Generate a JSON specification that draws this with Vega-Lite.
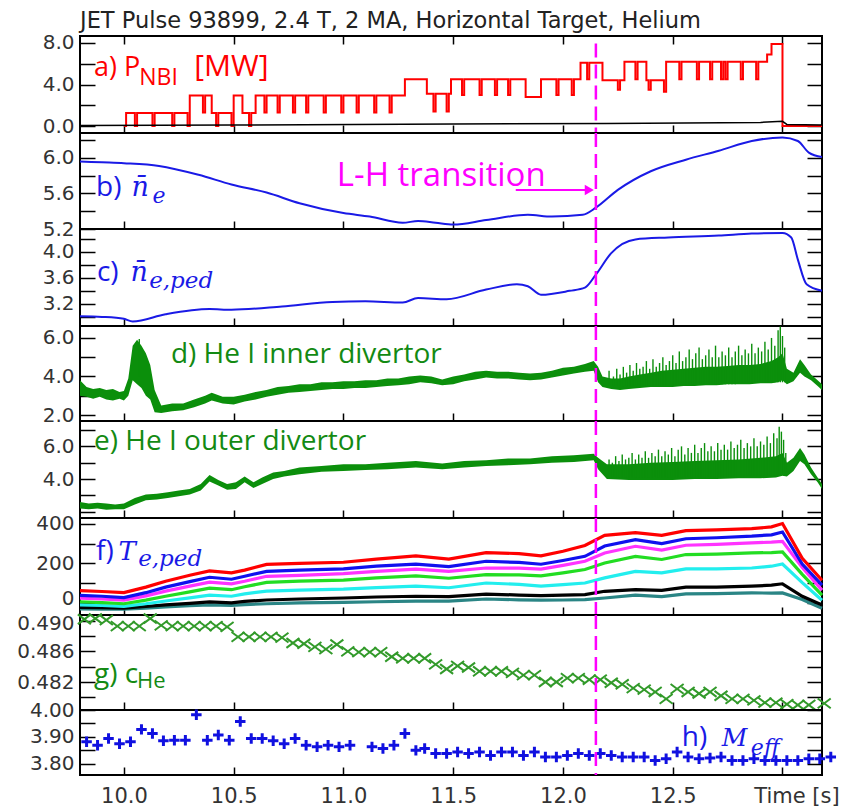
{
"$schema": "https://vega.github.io/schema/vega-lite/v6.json",
"background": "white",
"padding": {"left": 15, "top": 9, "right": 5, "bottom": 5},
"spacing": 0,
"bounds": "flush",
"config": {
  "view": {"stroke": "#000", "strokeWidth": 2},
  "axis": {"domain": false, "grid": false, "title": null, "tickColor": "#000", "tickWidth": 1.5, "labelFont": "DejaVu Sans", "labelFontSize": 21, "labelColor": "#333"},
  "axisX": {"tickSize": -8, "labelPadding": 18},
  "axisY": {"tickSize": -15, "labelPadding": 21, "labelFontSize": 20}
},
"datasets": {
  "pnbi": [{"t":10.00,"p":0},{"t":10.01,"p":1.25},{"t":10.05,"p":0},{"t":10.06,"p":1.25},{"t":10.13,"p":0},{"t":10.14,"p":1.25},{"t":10.22,"p":0},{"t":10.23,"p":1.25},{"t":10.29,"p":0},{"t":10.30,"p":2.95},{"t":10.36,"p":1.3},{"t":10.37,"p":2.95},{"t":10.40,"p":1.25},{"t":10.42,"p":0},{"t":10.43,"p":1.25},{"t":10.49,"p":0},{"t":10.50,"p":2.95},{"t":10.54,"p":1.25},{"t":10.57,"p":0},{"t":10.58,"p":1.25},{"t":10.60,"p":2.95},{"t":10.64,"p":1.3},{"t":10.65,"p":2.95},{"t":10.70,"p":1.3},{"t":10.71,"p":2.95},{"t":10.77,"p":1.3},{"t":10.78,"p":2.95},{"t":10.83,"p":1.3},{"t":10.84,"p":2.95},{"t":10.91,"p":1.3},{"t":10.92,"p":2.95},{"t":10.99,"p":1.3},{"t":11.00,"p":2.95},{"t":11.06,"p":1.3},{"t":11.07,"p":2.95},{"t":11.14,"p":1.3},{"t":11.15,"p":2.95},{"t":11.21,"p":1.3},{"t":11.22,"p":2.95},{"t":11.28,"p":4.5},{"t":11.38,"p":3.1},{"t":11.41,"p":1.4},{"t":11.42,"p":3.1},{"t":11.47,"p":1.4},{"t":11.48,"p":3.1},{"t":11.49,"p":4.5},{"t":11.54,"p":3.0},{"t":11.55,"p":4.5},{"t":11.62,"p":3.0},{"t":11.63,"p":4.5},{"t":11.69,"p":3.0},{"t":11.70,"p":4.5},{"t":11.75,"p":3.0},{"t":11.76,"p":4.5},{"t":11.83,"p":2.8},{"t":11.90,"p":4.5},{"t":11.97,"p":3.0},{"t":11.98,"p":4.5},{"t":12.04,"p":3.0},{"t":12.05,"p":4.5},{"t":12.08,"p":6.1},{"t":12.11,"p":4.5},{"t":12.12,"p":6.1},{"t":12.18,"p":4.4},{"t":12.25,"p":3.5},{"t":12.26,"p":4.4},{"t":12.28,"p":6.2},{"t":12.33,"p":4.5},{"t":12.34,"p":6.2},{"t":12.38,"p":4.4},{"t":12.39,"p":3.5},{"t":12.40,"p":4.4},{"t":12.46,"p":3.3},{"t":12.47,"p":6.2},{"t":12.53,"p":4.5},{"t":12.54,"p":6.2},{"t":12.61,"p":4.5},{"t":12.62,"p":6.2},{"t":12.67,"p":4.5},{"t":12.68,"p":6.2},{"t":12.72,"p":4.5},{"t":12.73,"p":6.2},{"t":12.74,"p":4.5},{"t":12.75,"p":6.2},{"t":12.81,"p":4.5},{"t":12.82,"p":6.2},{"t":12.88,"p":4.5},{"t":12.89,"p":6.2},{"t":12.93,"p":6.9},{"t":12.95,"p":7.9},{"t":13.00,"p":0},{"t":13.18,"p":0}],
  "ohm": [{"t":9.8,"p":0.05},{"t":10.5,"p":0.1},{"t":11.5,"p":0.2},{"t":12.2,"p":0.25},{"t":12.9,"p":0.35},{"t":13.0,"p":0.45},{"t":13.02,"p":0.15},{"t":13.18,"p":0.1}],
  "ne": [{"t":9.80,"v":5.96},{"t":9.90,"v":5.95},{"t":10.00,"v":5.94},{"t":10.16,"v":5.91},{"t":10.34,"v":5.81},{"t":10.49,"v":5.70},{"t":10.65,"v":5.61},{"t":10.80,"v":5.49},{"t":11.00,"v":5.38},{"t":11.12,"v":5.34},{"t":11.27,"v":5.27},{"t":11.34,"v":5.29},{"t":11.42,"v":5.27},{"t":11.50,"v":5.25},{"t":11.65,"v":5.30},{"t":11.84,"v":5.36},{"t":11.95,"v":5.34},{"t":12.09,"v":5.36},{"t":12.15,"v":5.44},{"t":12.25,"v":5.64},{"t":12.40,"v":5.85},{"t":12.56,"v":5.98},{"t":12.71,"v":6.08},{"t":12.86,"v":6.19},{"t":13.00,"v":6.23},{"t":13.07,"v":6.19},{"t":13.12,"v":6.06},{"t":13.18,"v":6.01}],
  "neped": [{"t":9.80,"v":3.01},{"t":9.90,"v":3.00},{"t":10.00,"v":2.97},{"t":10.04,"v":2.93},{"t":10.19,"v":3.04},{"t":10.39,"v":3.12},{"t":10.49,"v":3.11},{"t":10.72,"v":3.16},{"t":10.95,"v":3.23},{"t":11.10,"v":3.24},{"t":11.27,"v":3.22},{"t":11.34,"v":3.29},{"t":11.47,"v":3.27},{"t":11.65,"v":3.42},{"t":11.79,"v":3.50},{"t":11.84,"v":3.47},{"t":11.90,"v":3.34},{"t":12.03,"v":3.40},{"t":12.10,"v":3.45},{"t":12.15,"v":3.65},{"t":12.22,"v":3.98},{"t":12.33,"v":4.19},{"t":12.48,"v":4.22},{"t":12.71,"v":4.25},{"t":12.86,"v":4.28},{"t":13.00,"v":4.29},{"t":13.04,"v":4.22},{"t":13.07,"v":3.88},{"t":13.11,"v":3.50},{"t":13.18,"v":3.40}],
  "hin": [{"t":9.80,"lo":3.0,"hi":3.8},{"t":9.83,"lo":2.95,"hi":3.45},{"t":9.86,"lo":2.85,"hi":3.35},{"t":9.89,"lo":2.95,"hi":3.4},{"t":9.92,"lo":2.8,"hi":3.3},{"t":9.95,"lo":2.75,"hi":3.35},{"t":9.98,"lo":2.85,"hi":3.2},{"t":10.00,"lo":2.75,"hi":3.25},{"t":10.02,"lo":3.0,"hi":3.9},{"t":10.04,"lo":3.8,"hi":5.6},{"t":10.06,"lo":3.6,"hi":5.9},{"t":10.08,"lo":3.4,"hi":5.6},{"t":10.10,"lo":3.0,"hi":5.2},{"t":10.12,"lo":2.8,"hi":4.6},{"t":10.14,"lo":2.15,"hi":3.3},{"t":10.17,"lo":2.1,"hi":2.5},{"t":10.22,"lo":2.2,"hi":2.6},{"t":10.27,"lo":2.25,"hi":2.6},{"t":10.32,"lo":2.4,"hi":2.8},{"t":10.37,"lo":2.6,"hi":3.0},{"t":10.40,"lo":2.75,"hi":3.15},{"t":10.45,"lo":2.6,"hi":2.95},{"t":10.50,"lo":2.55,"hi":2.95},{"t":10.55,"lo":2.7,"hi":3.05},{"t":10.60,"lo":2.8,"hi":3.2},{"t":10.65,"lo":2.95,"hi":3.3},{"t":10.70,"lo":3.05,"hi":3.45},{"t":10.75,"lo":3.15,"hi":3.5},{"t":10.80,"lo":3.2,"hi":3.6},{"t":10.85,"lo":3.25,"hi":3.6},{"t":10.90,"lo":3.3,"hi":3.7},{"t":10.95,"lo":3.35,"hi":3.7},{"t":11.00,"lo":3.35,"hi":3.75},{"t":11.05,"lo":3.4,"hi":3.75},{"t":11.10,"lo":3.4,"hi":3.8},{"t":11.15,"lo":3.45,"hi":3.8},{"t":11.20,"lo":3.5,"hi":3.9},{"t":11.25,"lo":3.55,"hi":3.9},{"t":11.30,"lo":3.6,"hi":4.0},{"t":11.35,"lo":3.7,"hi":4.05},{"t":11.40,"lo":3.65,"hi":4.0},{"t":11.45,"lo":3.55,"hi":3.85},{"t":11.50,"lo":3.6,"hi":4.0},{"t":11.55,"lo":3.75,"hi":4.1},{"t":11.60,"lo":3.85,"hi":4.25},{"t":11.65,"lo":3.95,"hi":4.3},{"t":11.70,"lo":3.9,"hi":4.25},{"t":11.75,"lo":3.9,"hi":4.25},{"t":11.80,"lo":3.85,"hi":4.2},{"t":11.85,"lo":3.8,"hi":4.15},{"t":11.90,"lo":3.85,"hi":4.2},{"t":11.95,"lo":3.95,"hi":4.3},{"t":12.00,"lo":4.05,"hi":4.45},{"t":12.05,"lo":4.15,"hi":4.5},{"t":12.10,"lo":4.25,"hi":4.65},{"t":12.14,"lo":4.3,"hi":4.8},{"t":12.16,"lo":3.7,"hi":4.5},{"t":12.18,"lo":3.45,"hi":4.0},{"t":12.22,"lo":3.35,"hi":3.9},{"t":12.26,"lo":3.3,"hi":3.9},{"t":12.30,"lo":3.35,"hi":4.0},{"t":12.35,"lo":3.4,"hi":4.1},{"t":12.40,"lo":3.45,"hi":4.2},{"t":12.45,"lo":3.45,"hi":4.3},{"t":12.50,"lo":3.45,"hi":4.35},{"t":12.55,"lo":3.5,"hi":4.4},{"t":12.60,"lo":3.5,"hi":4.45},{"t":12.65,"lo":3.55,"hi":4.5},{"t":12.70,"lo":3.55,"hi":4.5},{"t":12.75,"lo":3.6,"hi":4.55},{"t":12.80,"lo":3.6,"hi":4.6},{"t":12.85,"lo":3.6,"hi":4.6},{"t":12.90,"lo":3.65,"hi":4.65},{"t":12.95,"lo":3.65,"hi":4.8},{"t":12.98,"lo":3.7,"hi":5.0},{"t":13.00,"lo":3.8,"hi":5.2},{"t":13.02,"lo":3.6,"hi":4.4},{"t":13.05,"lo":3.75,"hi":4.2},{"t":13.08,"lo":4.2,"hi":4.9},{"t":13.10,"lo":4.0,"hi":4.6},{"t":13.13,"lo":3.8,"hi":4.1},{"t":13.16,"lo":3.5,"hi":3.8},{"t":13.18,"lo":3.3,"hi":3.6}],
  "hinsp": [{"t":10.07,"lo":4.0,"hi":5.95},{"t":12.21,"lo":3.5,"hi":4.3},{"t":12.23,"lo":3.5,"hi":4.0},{"t":12.245,"lo":3.5,"hi":4.4},{"t":12.26,"lo":3.5,"hi":4.1},{"t":12.275,"lo":3.5,"hi":4.5},{"t":12.29,"lo":3.5,"hi":4.2},{"t":12.305,"lo":3.5,"hi":4.6},{"t":12.32,"lo":3.5,"hi":4.3},{"t":12.335,"lo":3.5,"hi":4.7},{"t":12.35,"lo":3.5,"hi":4.4},{"t":12.365,"lo":3.5,"hi":4.5},{"t":12.38,"lo":3.5,"hi":4.8},{"t":12.395,"lo":3.5,"hi":4.4},{"t":12.41,"lo":3.5,"hi":4.9},{"t":12.425,"lo":3.5,"hi":4.5},{"t":12.44,"lo":3.5,"hi":4.7},{"t":12.455,"lo":3.5,"hi":5.0},{"t":12.47,"lo":3.5,"hi":4.6},{"t":12.485,"lo":3.5,"hi":4.8},{"t":12.50,"lo":3.5,"hi":5.1},{"t":12.515,"lo":3.5,"hi":4.7},{"t":12.53,"lo":3.6,"hi":5.3},{"t":12.545,"lo":3.6,"hi":4.8},{"t":12.56,"lo":3.6,"hi":5.0},{"t":12.575,"lo":3.6,"hi":5.4},{"t":12.59,"lo":3.6,"hi":4.9},{"t":12.605,"lo":3.6,"hi":5.2},{"t":12.62,"lo":3.6,"hi":5.5},{"t":12.635,"lo":3.6,"hi":4.9},{"t":12.65,"lo":3.6,"hi":5.1},{"t":12.665,"lo":3.6,"hi":5.4},{"t":12.68,"lo":3.6,"hi":5.0},{"t":12.695,"lo":3.6,"hi":5.6},{"t":12.71,"lo":3.6,"hi":5.0},{"t":12.725,"lo":3.6,"hi":5.3},{"t":12.74,"lo":3.6,"hi":5.1},{"t":12.755,"lo":3.6,"hi":5.5},{"t":12.77,"lo":3.6,"hi":5.0},{"t":12.785,"lo":3.6,"hi":5.3},{"t":12.80,"lo":3.7,"hi":5.6},{"t":12.815,"lo":3.7,"hi":5.1},{"t":12.83,"lo":3.7,"hi":5.4},{"t":12.845,"lo":3.7,"hi":5.2},{"t":12.86,"lo":3.7,"hi":5.7},{"t":12.875,"lo":3.7,"hi":5.2},{"t":12.89,"lo":3.7,"hi":5.5},{"t":12.905,"lo":3.7,"hi":5.3},{"t":12.92,"lo":3.7,"hi":5.8},{"t":12.935,"lo":3.7,"hi":5.4},{"t":12.95,"lo":3.7,"hi":6.0},{"t":12.965,"lo":3.7,"hi":5.6},{"t":12.98,"lo":3.7,"hi":6.4},{"t":12.99,"lo":3.7,"hi":6.6},{"t":13.00,"lo":3.7,"hi":6.1},{"t":13.01,"lo":3.7,"hi":5.5}],
  "hout": [{"t":9.80,"lo":2.2,"hi":2.6},{"t":9.84,"lo":2.15,"hi":2.5},{"t":9.88,"lo":2.2,"hi":2.55},{"t":9.92,"lo":2.12,"hi":2.5},{"t":9.96,"lo":2.15,"hi":2.45},{"t":10.00,"lo":2.15,"hi":2.5},{"t":10.05,"lo":2.45,"hi":2.85},{"t":10.10,"lo":2.7,"hi":3.05},{"t":10.15,"lo":2.75,"hi":3.1},{"t":10.20,"lo":2.85,"hi":3.2},{"t":10.25,"lo":2.95,"hi":3.3},{"t":10.30,"lo":3.05,"hi":3.4},{"t":10.35,"lo":3.3,"hi":3.7},{"t":10.39,"lo":3.85,"hi":4.25},{"t":10.43,"lo":3.6,"hi":3.95},{"t":10.47,"lo":3.35,"hi":3.7},{"t":10.51,"lo":3.4,"hi":3.8},{"t":10.55,"lo":3.8,"hi":4.15},{"t":10.59,"lo":3.45,"hi":3.8},{"t":10.63,"lo":3.7,"hi":4.1},{"t":10.68,"lo":4.0,"hi":4.4},{"t":10.73,"lo":4.15,"hi":4.5},{"t":10.80,"lo":4.3,"hi":4.7},{"t":10.90,"lo":4.45,"hi":4.8},{"t":11.00,"lo":4.5,"hi":4.9},{"t":11.10,"lo":4.55,"hi":4.9},{"t":11.20,"lo":4.6,"hi":5.0},{"t":11.33,"lo":4.7,"hi":5.1},{"t":11.45,"lo":4.6,"hi":4.95},{"t":11.55,"lo":4.7,"hi":5.1},{"t":11.65,"lo":4.8,"hi":5.15},{"t":11.75,"lo":4.85,"hi":5.25},{"t":11.85,"lo":4.9,"hi":5.25},{"t":11.95,"lo":5.0,"hi":5.4},{"t":12.05,"lo":5.05,"hi":5.45},{"t":12.14,"lo":5.15,"hi":5.55},{"t":12.16,"lo":4.6,"hi":5.3},{"t":12.20,"lo":4.0,"hi":4.9},{"t":12.30,"lo":3.95,"hi":4.9},{"t":12.40,"lo":3.95,"hi":5.0},{"t":12.50,"lo":3.95,"hi":5.05},{"t":12.60,"lo":4.0,"hi":5.1},{"t":12.70,"lo":4.0,"hi":5.15},{"t":12.80,"lo":4.05,"hi":5.2},{"t":12.90,"lo":4.05,"hi":5.3},{"t":12.97,"lo":4.1,"hi":5.4},{"t":13.00,"lo":4.2,"hi":5.6},{"t":13.02,"lo":4.15,"hi":5.0},{"t":13.05,"lo":4.5,"hi":5.3},{"t":13.08,"lo":5.1,"hi":5.9},{"t":13.10,"lo":4.9,"hi":5.5},{"t":13.13,"lo":4.3,"hi":4.7},{"t":13.16,"lo":3.8,"hi":4.1},{"t":13.18,"lo":3.4,"hi":3.7}],
  "houtsp": [{"t":12.21,"lo":4.1,"hi":5.2},{"t":12.225,"lo":4.1,"hi":5.0},{"t":12.24,"lo":4.1,"hi":5.4},{"t":12.255,"lo":4.1,"hi":5.1},{"t":12.27,"lo":4.1,"hi":5.5},{"t":12.285,"lo":4.1,"hi":5.2},{"t":12.30,"lo":4.1,"hi":5.3},{"t":12.315,"lo":4.1,"hi":5.6},{"t":12.33,"lo":4.1,"hi":5.2},{"t":12.345,"lo":4.1,"hi":5.5},{"t":12.36,"lo":4.1,"hi":5.3},{"t":12.375,"lo":4.1,"hi":5.7},{"t":12.39,"lo":4.1,"hi":5.3},{"t":12.405,"lo":4.1,"hi":5.6},{"t":12.42,"lo":4.1,"hi":5.4},{"t":12.435,"lo":4.1,"hi":5.8},{"t":12.45,"lo":4.1,"hi":5.4},{"t":12.465,"lo":4.1,"hi":5.7},{"t":12.48,"lo":4.1,"hi":5.5},{"t":12.495,"lo":4.1,"hi":5.9},{"t":12.51,"lo":4.1,"hi":5.4},{"t":12.525,"lo":4.1,"hi":5.8},{"t":12.54,"lo":4.1,"hi":6.0},{"t":12.555,"lo":4.1,"hi":5.5},{"t":12.57,"lo":4.1,"hi":5.9},{"t":12.585,"lo":4.1,"hi":5.6},{"t":12.60,"lo":4.1,"hi":6.1},{"t":12.615,"lo":4.1,"hi":5.6},{"t":12.63,"lo":4.1,"hi":5.9},{"t":12.645,"lo":4.1,"hi":6.2},{"t":12.66,"lo":4.1,"hi":5.7},{"t":12.675,"lo":4.1,"hi":6.0},{"t":12.69,"lo":4.1,"hi":5.7},{"t":12.705,"lo":4.1,"hi":6.2},{"t":12.72,"lo":4.1,"hi":5.8},{"t":12.735,"lo":4.1,"hi":6.1},{"t":12.75,"lo":4.1,"hi":5.8},{"t":12.765,"lo":4.1,"hi":6.3},{"t":12.78,"lo":4.1,"hi":5.9},{"t":12.795,"lo":4.1,"hi":6.1},{"t":12.81,"lo":4.1,"hi":6.4},{"t":12.825,"lo":4.1,"hi":5.9},{"t":12.84,"lo":4.2,"hi":6.2},{"t":12.855,"lo":4.2,"hi":6.0},{"t":12.87,"lo":4.2,"hi":6.5},{"t":12.885,"lo":4.2,"hi":6.0},{"t":12.90,"lo":4.2,"hi":6.3},{"t":12.915,"lo":4.2,"hi":6.1},{"t":12.93,"lo":4.2,"hi":6.6},{"t":12.945,"lo":4.2,"hi":6.2},{"t":12.96,"lo":4.2,"hi":6.8},{"t":12.975,"lo":4.2,"hi":6.5},{"t":12.985,"lo":4.2,"hi":7.2},{"t":12.995,"lo":4.2,"hi":6.9},{"t":13.005,"lo":4.2,"hi":6.4},{"t":13.015,"lo":4.2,"hi":5.6}],
  "te": [{"t":9.80,"r":62,"b":38,"m":24,"g":6,"c":-10,"k":-22,"d":-30},{"t":9.90,"r":58,"b":34,"m":20,"g":2,"c":-13,"k":-24,"d":-31},{"t":10.00,"r":52,"b":27,"m":14,"g":-4,"c":-17,"k":-26,"d":-32},{"t":10.10,"r":80,"b":52,"m":36,"g":14,"c":-4,"k":-18,"d":-26},{"t":10.19,"r":110,"b":80,"m":60,"g":34,"c":10,"k":-10,"d":-20},{"t":10.30,"r":140,"b":108,"m":85,"g":56,"c":26,"k":-2,"d":-14},{"t":10.39,"r":162,"b":130,"m":105,"g":75,"c":40,"k":5,"d":-10},{"t":10.49,"r":152,"b":120,"m":97,"g":67,"c":34,"k":0,"d":-12},{"t":10.55,"r":166,"b":135,"m":110,"g":82,"c":46,"k":8,"d":-8},{"t":10.65,"r":195,"b":160,"m":135,"g":104,"c":60,"k":15,"d":-4},{"t":10.80,"r":200,"b":166,"m":140,"g":110,"c":65,"k":20,"d":0},{"t":11.00,"r":206,"b":172,"m":148,"g":116,"c":70,"k":25,"d":3},{"t":11.15,"r":222,"b":186,"m":160,"g":127,"c":78,"k":30,"d":6},{"t":11.33,"r":238,"b":197,"m":171,"g":137,"c":85,"k":34,"d":9},{"t":11.48,"r":222,"b":184,"m":160,"g":125,"c":77,"k":32,"d":9},{"t":11.65,"r":255,"b":211,"m":177,"g":143,"c":101,"k":45,"d":20},{"t":11.80,"r":250,"b":205,"m":176,"g":142,"c":94,"k":40,"d":16},{"t":11.90,"r":238,"b":196,"m":171,"g":137,"c":85,"k":37,"d":14},{"t":12.00,"r":262,"b":215,"m":190,"g":152,"c":93,"k":40,"d":15},{"t":12.10,"r":291,"b":236,"m":211,"g":169,"c":101,"k":42,"d":17},{"t":12.19,"r":342,"b":288,"m":253,"g":202,"c":127,"k":59,"d":25},{"t":12.33,"r":356,"b":320,"m":287,"g":236,"c":160,"k":67,"d":40},{"t":12.45,"r":342,"b":300,"m":268,"g":220,"c":152,"k":64,"d":32},{"t":12.56,"r":366,"b":325,"m":292,"g":245,"c":172,"k":80,"d":46},{"t":12.70,"r":370,"b":330,"m":296,"g":247,"c":172,"k":80,"d":47},{"t":12.86,"r":376,"b":338,"m":304,"g":253,"c":177,"k":85,"d":51},{"t":12.95,"r":385,"b":345,"m":308,"g":255,"c":186,"k":90,"d":50},{"t":13.00,"r":402,"b":359,"m":312,"g":258,"c":197,"k":97,"d":51},{"t":13.09,"r":226,"b":197,"m":180,"g":145,"c":103,"k":34,"d":17},{"t":13.18,"r":115,"b":90,"m":65,"g":40,"c":14,"k":-10,"d":-27}],
  "che": [{"t":9.82,"v":0.4902},{"t":9.87,"v":0.4903},{"t":9.92,"v":0.4901},{"t":9.97,"v":0.4893},{"t":10.02,"v":0.4893},{"t":10.07,"v":0.4893},{"t":10.12,"v":0.4903},{"t":10.17,"v":0.4894},{"t":10.22,"v":0.4893},{"t":10.27,"v":0.4893},{"t":10.32,"v":0.4893},{"t":10.37,"v":0.4893},{"t":10.42,"v":0.4893},{"t":10.47,"v":0.4892},{"t":10.52,"v":0.4879},{"t":10.57,"v":0.4879},{"t":10.62,"v":0.4879},{"t":10.67,"v":0.4879},{"t":10.72,"v":0.4878},{"t":10.77,"v":0.4871},{"t":10.82,"v":0.4870},{"t":10.87,"v":0.4866},{"t":10.92,"v":0.4863},{"t":10.97,"v":0.4869},{"t":11.02,"v":0.4860},{"t":11.07,"v":0.4859},{"t":11.12,"v":0.4859},{"t":11.17,"v":0.4859},{"t":11.22,"v":0.4853},{"t":11.27,"v":0.4851},{"t":11.32,"v":0.4851},{"t":11.37,"v":0.4851},{"t":11.42,"v":0.4843},{"t":11.47,"v":0.4837},{"t":11.52,"v":0.4841},{"t":11.57,"v":0.4839},{"t":11.62,"v":0.4834},{"t":11.67,"v":0.4834},{"t":11.72,"v":0.4834},{"t":11.77,"v":0.4832},{"t":11.82,"v":0.4829},{"t":11.87,"v":0.4829},{"t":11.92,"v":0.4820},{"t":11.97,"v":0.4820},{"t":12.02,"v":0.4825},{"t":12.07,"v":0.4825},{"t":12.12,"v":0.4823},{"t":12.17,"v":0.4823},{"t":12.22,"v":0.4819},{"t":12.27,"v":0.4817},{"t":12.32,"v":0.4812},{"t":12.37,"v":0.4810},{"t":12.42,"v":0.4807},{"t":12.47,"v":0.4798},{"t":12.52,"v":0.4811},{"t":12.57,"v":0.4807},{"t":12.62,"v":0.4805},{"t":12.67,"v":0.4807},{"t":12.72,"v":0.4802},{"t":12.77,"v":0.4798},{"t":12.82,"v":0.4798},{"t":12.87,"v":0.4796},{"t":12.92,"v":0.4793},{"t":12.97,"v":0.4793},{"t":13.02,"v":0.4791},{"t":13.07,"v":0.4790},{"t":13.12,"v":0.4790},{"t":13.19,"v":0.4792}],
  "meff": [{"t":9.83,"v":3.882},{"t":9.88,"v":3.869},{"t":9.93,"v":3.894},{"t":9.98,"v":3.875},{"t":10.03,"v":3.882},{"t":10.08,"v":3.928},{"t":10.13,"v":3.913},{"t":10.18,"v":3.886},{"t":10.23,"v":3.888},{"t":10.28,"v":3.888},{"t":10.33,"v":3.982},{"t":10.38,"v":3.888},{"t":10.43,"v":3.907},{"t":10.48,"v":3.888},{"t":10.53,"v":3.957},{"t":10.58,"v":3.894},{"t":10.63,"v":3.894},{"t":10.68,"v":3.886},{"t":10.73,"v":3.875},{"t":10.78,"v":3.894},{"t":10.83,"v":3.869},{"t":10.88,"v":3.863},{"t":10.93,"v":3.869},{"t":10.98,"v":3.863},{"t":11.03,"v":3.869},{"t":11.13,"v":3.863},{"t":11.18,"v":3.857},{"t":11.23,"v":3.869},{"t":11.28,"v":3.913},{"t":11.33,"v":3.850},{"t":11.37,"v":3.857},{"t":11.42,"v":3.838},{"t":11.47,"v":3.838},{"t":11.52,"v":3.844},{"t":11.57,"v":3.838},{"t":11.62,"v":3.844},{"t":11.67,"v":3.831},{"t":11.72,"v":3.844},{"t":11.77,"v":3.844},{"t":11.82,"v":3.831},{"t":11.87,"v":3.844},{"t":11.92,"v":3.825},{"t":11.97,"v":3.825},{"t":12.02,"v":3.831},{"t":12.07,"v":3.838},{"t":12.12,"v":3.831},{"t":12.17,"v":3.838},{"t":12.22,"v":3.831},{"t":12.27,"v":3.825},{"t":12.32,"v":3.825},{"t":12.37,"v":3.825},{"t":12.42,"v":3.812},{"t":12.47,"v":3.819},{"t":12.52,"v":3.844},{"t":12.57,"v":3.825},{"t":12.62,"v":3.819},{"t":12.67,"v":3.822},{"t":12.72,"v":3.825},{"t":12.77,"v":3.812},{"t":12.82,"v":3.812},{"t":12.87,"v":3.819},{"t":12.92,"v":3.812},{"t":12.97,"v":3.812},{"t":13.02,"v":3.812},{"t":13.07,"v":3.812},{"t":13.12,"v":3.819},{"t":13.17,"v":3.819},{"t":13.22,"v":3.825}]
},
"vconcat": [
 {"width": 742, "height": 97,
  "title": {"text": "JET Pulse 93899, 2.4 T, 2 MA, Horizontal Target, Helium", "anchor": "start", "frame": "group", "font": "DejaVu Sans", "fontSize": 22.5, "fontWeight": "normal", "color": "#222", "offset": 0},
  "layer": [
   {"data": {"name": "pnbi"}, "mark": {"type": "line", "interpolate": "step-after", "color": "#ff0000", "strokeWidth": 2},
    "encoding": {"x": {"field": "t", "type": "quantitative", "scale": {"domain": [9.8, 13.18], "nice": false, "zero": false}, "axis": {"values": [10, 10.5, 11, 11.5, 12, 12.5, 13], "labels": false}},
     "y": {"field": "p", "type": "quantitative", "scale": {"domain": [-0.67, 8.67], "nice": false, "zero": false}, "axis": {"values": [0, 2, 4, 6, 8], "labelExpr": "datum.value % 4 == 0 ? format(datum.value, '.1f') : ''"}}}},
   {"data": {"name": "ohm"}, "mark": {"type": "line", "color": "#000", "strokeWidth": 1.5},
    "encoding": {"x": {"field": "t", "type": "quantitative", "axis": null}, "y": {"field": "p", "type": "quantitative", "axis": null}}},
   {"data": {"name": "ohm"}, "mark": {"type": "point", "opacity": 0},
    "encoding": {"x": {"field": "t", "type": "quantitative", "axis": {"orient": "top", "values": [10, 10.5, 11, 11.5, 12, 12.5, 13], "labels": false}}, "y": {"field": "p", "type": "quantitative", "axis": {"orient": "right", "values": [0, 2, 4, 6, 8], "labels": false}}}},
   {"data": {"values": [{}]}, "mark": {"type": "rule", "color": "#ff00ff", "strokeDash": [14, 7], "strokeWidth": 2.5},
    "encoding": {"x": {"datum": 12.15, "type": "quantitative", "axis": null}, "y": {"datum": 7.95, "type": "quantitative", "axis": null}, "y2": {"datum": -0.67}}},
   {"data": {"values": [{}]}, "mark": {"type": "text", "text": "a) P", "font": "Open Sans", "fontSize": 27, "color": "#ff0000", "align": "left", "baseline": "alphabetic"},
    "encoding": {"x": {"datum": 9.864, "type": "quantitative", "axis": null}, "y": {"datum": 4.82, "type": "quantitative", "axis": null}}},
   {"data": {"values": [{}]}, "mark": {"type": "text", "text": "NBI", "font": "Open Sans", "fontSize": 23, "color": "#ff0000", "align": "left", "baseline": "alphabetic"},
    "encoding": {"x": {"datum": 10.07, "type": "quantitative", "axis": null}, "y": {"datum": 3.96, "type": "quantitative", "axis": null}}},
   {"data": {"values": [{}]}, "mark": {"type": "text", "text": "[MW]", "font": "Open Sans", "fontSize": 30, "color": "#ff0000", "align": "left", "baseline": "alphabetic"},
    "encoding": {"x": {"datum": 10.32, "type": "quantitative", "axis": null}, "y": {"datum": 4.82, "type": "quantitative", "axis": null}}}
  ],
  "resolve": {"axis": {"y": "independent", "x": "independent"}}
 },
 {"width": 742, "height": 96,
  "layer": [
   {"data": {"name": "ne"}, "mark": {"type": "line", "interpolate": "monotone", "color": "#1a1ae6", "strokeWidth": 2},
    "encoding": {"x": {"field": "t", "type": "quantitative", "scale": {"domain": [9.8, 13.18], "nice": false, "zero": false}, "axis": {"values": [10, 10.5, 11, 11.5, 12, 12.5, 13], "labels": false}},
     "y": {"field": "v", "type": "quantitative", "scale": {"domain": [5.2, 6.28], "nice": false, "zero": false}, "axis": {"values": [5.2, 5.4, 5.6, 5.8, 6.0, 6.2], "labelExpr": "round(datum.value * 10) % 4 == 0 ? format(datum.value, '.1f') : ''"}}}},
   {"data": {"name": "ne"}, "mark": {"type": "point", "opacity": 0},
    "encoding": {"x": {"field": "t", "type": "quantitative"}, "y": {"field": "v", "type": "quantitative", "axis": {"orient": "right", "values": [5.2, 5.4, 5.6, 5.8, 6.0, 6.2], "labels": false}}}},
   {"data": {"values": [{}]}, "mark": {"type": "rule", "color": "#ff00ff", "strokeDash": [14, 7], "strokeWidth": 2.5},
    "encoding": {"x": {"datum": 12.15, "type": "quantitative"}}},
   {"data": {"values": [{}]}, "mark": {"type": "text", "text": "b)", "font": "Open Sans", "fontSize": 28, "color": "#1a1ae6", "align": "left", "baseline": "alphabetic"},
    "encoding": {"x": {"datum": 9.873, "type": "quantitative"}, "y": {"datum": 5.57, "type": "quantitative", "axis": null}}},
   {"data": {"values": [{}]}, "mark": {"type": "text", "text": "n̄", "font": "DejaVu Serif", "fontStyle": "italic", "fontSize": 27, "color": "#1a1ae6", "align": "left", "baseline": "alphabetic"},
    "encoding": {"x": {"datum": 10.035, "type": "quantitative"}, "y": {"datum": 5.57, "type": "quantitative", "axis": null}}},
   {"data": {"values": [{}]}, "mark": {"type": "text", "text": "e", "font": "DejaVu Serif", "fontStyle": "italic", "fontSize": 22, "color": "#1a1ae6", "align": "left", "baseline": "alphabetic"},
    "encoding": {"x": {"datum": 10.13, "type": "quantitative"}, "y": {"datum": 5.49, "type": "quantitative", "axis": null}}},
   {"data": {"values": [{}]}, "mark": {"type": "text", "text": "L-H transition", "font": "Open Sans", "fontSize": 33, "color": "#ff00ff", "align": "left", "baseline": "alphabetic"},
    "encoding": {"x": {"datum": 10.97, "type": "quantitative"}, "y": {"datum": 5.68, "type": "quantitative", "axis": null}}},
   {"data": {"values": [{}]}, "mark": {"type": "rule", "color": "#ff00ff", "strokeWidth": 2},
    "encoding": {"x": {"datum": 11.785, "type": "quantitative"}, "x2": {"datum": 12.12}, "y": {"datum": 5.64, "type": "quantitative", "axis": null}}},
   {"data": {"values": [{}]}, "mark": {"type": "point", "shape": "triangle-right", "filled": true, "size": 110, "color": "#ff00ff", "opacity": 1},
    "encoding": {"x": {"datum": 12.12, "type": "quantitative"}, "y": {"datum": 5.64, "type": "quantitative", "axis": null}}}
  ],
  "resolve": {"axis": {"y": "independent"}}
 },
 {"width": 742, "height": 97,
  "layer": [
   {"data": {"name": "neped"}, "mark": {"type": "line", "interpolate": "monotone", "color": "#1a1ae6", "strokeWidth": 2},
    "encoding": {"x": {"field": "t", "type": "quantitative", "scale": {"domain": [9.8, 13.18], "nice": false, "zero": false}, "axis": {"values": [10, 10.5, 11, 11.5, 12, 12.5, 13], "labels": false}},
     "y": {"field": "v", "type": "quantitative", "scale": {"domain": [2.86, 4.35], "nice": false, "zero": false}, "axis": {"values": [3.0, 3.2, 3.4, 3.6, 3.8, 4.0, 4.2], "labelExpr": "round(datum.value * 10) % 4 == 0 ? format(datum.value, '.1f') : ''"}}}},
   {"data": {"name": "neped"}, "mark": {"type": "point", "opacity": 0},
    "encoding": {"x": {"field": "t", "type": "quantitative"}, "y": {"field": "v", "type": "quantitative", "axis": {"orient": "right", "values": [3.0, 3.2, 3.4, 3.6, 3.8, 4.0, 4.2], "labels": false}}}},
   {"data": {"values": [{}]}, "mark": {"type": "rule", "color": "#ff00ff", "strokeDash": [14, 7], "strokeWidth": 2.5},
    "encoding": {"x": {"datum": 12.15, "type": "quantitative"}}},
   {"data": {"values": [{}]}, "mark": {"type": "text", "text": "c)", "font": "Open Sans", "fontSize": 28, "color": "#1a1ae6", "align": "left", "baseline": "alphabetic"},
    "encoding": {"x": {"datum": 9.877, "type": "quantitative"}, "y": {"datum": 3.55, "type": "quantitative", "axis": null}}},
   {"data": {"values": [{}]}, "mark": {"type": "text", "text": "n̄", "font": "DejaVu Serif", "fontStyle": "italic", "fontSize": 27, "color": "#1a1ae6", "align": "left", "baseline": "alphabetic"},
    "encoding": {"x": {"datum": 10.03, "type": "quantitative"}, "y": {"datum": 3.55, "type": "quantitative", "axis": null}}},
   {"data": {"values": [{}]}, "mark": {"type": "text", "text": "e,ped", "font": "DejaVu Serif", "fontStyle": "italic", "fontSize": 23, "color": "#1a1ae6", "align": "left", "baseline": "alphabetic"},
    "encoding": {"x": {"datum": 10.115, "type": "quantitative"}, "y": {"datum": 3.445, "type": "quantitative", "axis": null}}}
  ],
  "resolve": {"axis": {"y": "independent"}}
 },
 {"width": 742, "height": 95,
  "layer": [
   {"data": {"name": "hin"}, "mark": {"type": "area", "color": "#0b8f0b", "opacity": 1},
    "encoding": {"x": {"field": "t", "type": "quantitative", "scale": {"domain": [9.8, 13.18], "nice": false, "zero": false}, "axis": {"values": [10, 10.5, 11, 11.5, 12, 12.5, 13], "labels": false}},
     "y": {"field": "lo", "type": "quantitative", "scale": {"domain": [1.69, 6.62], "nice": false, "zero": false}, "axis": {"values": [2, 3, 4, 5, 6], "labelExpr": "datum.value % 2 == 0 ? format(datum.value, '.1f') : ''"}}, "y2": {"field": "hi"}}},
   {"data": {"name": "hinsp"}, "mark": {"type": "rule", "color": "#0b8f0b", "strokeWidth": 1.4},
    "encoding": {"x": {"field": "t", "type": "quantitative"}, "y": {"field": "lo", "type": "quantitative", "axis": null}, "y2": {"field": "hi"}}},
   {"data": {"name": "hin"}, "mark": {"type": "point", "opacity": 0},
    "encoding": {"x": {"field": "t", "type": "quantitative"}, "y": {"field": "lo", "type": "quantitative", "axis": {"orient": "right", "values": [2, 3, 4, 5, 6], "labels": false}}}},
   {"data": {"values": [{}]}, "mark": {"type": "rule", "color": "#ff00ff", "strokeDash": [14, 7], "strokeWidth": 2.5},
    "encoding": {"x": {"datum": 12.15, "type": "quantitative"}}},
   {"data": {"values": [{}]}, "mark": {"type": "text", "text": "d) He I inner divertor", "font": "Open Sans", "fontSize": 28, "color": "#138a13", "align": "left", "baseline": "alphabetic"},
    "encoding": {"x": {"datum": 10.214, "type": "quantitative"}, "y": {"datum": 4.7, "type": "quantitative", "axis": null}}}
  ],
  "resolve": {"axis": {"y": "independent"}}
 },
 {"width": 742, "height": 97,
  "layer": [
   {"data": {"name": "hout"}, "mark": {"type": "area", "color": "#0b8f0b", "opacity": 1},
    "encoding": {"x": {"field": "t", "type": "quantitative", "scale": {"domain": [9.8, 13.18], "nice": false, "zero": false}, "axis": {"values": [10, 10.5, 11, 11.5, 12, 12.5, 13], "labels": false}},
     "y": {"field": "lo", "type": "quantitative", "scale": {"domain": [1.62, 7.55], "nice": false, "zero": false}, "axis": {"values": [2, 3, 4, 5, 6, 7], "labelExpr": "datum.value == 4 || datum.value == 6 ? format(datum.value, '.1f') : ''"}}, "y2": {"field": "hi"}}},
   {"data": {"name": "houtsp"}, "mark": {"type": "rule", "color": "#0b8f0b", "strokeWidth": 1.4},
    "encoding": {"x": {"field": "t", "type": "quantitative"}, "y": {"field": "lo", "type": "quantitative", "axis": null}, "y2": {"field": "hi"}}},
   {"data": {"name": "hout"}, "mark": {"type": "point", "opacity": 0},
    "encoding": {"x": {"field": "t", "type": "quantitative"}, "y": {"field": "lo", "type": "quantitative", "axis": {"orient": "right", "values": [2, 3, 4, 5, 6, 7], "labels": false}}}},
   {"data": {"values": [{}]}, "mark": {"type": "rule", "color": "#ff00ff", "strokeDash": [14, 7], "strokeWidth": 2.5},
    "encoding": {"x": {"datum": 12.15, "type": "quantitative"}}},
   {"data": {"values": [{}]}, "mark": {"type": "text", "text": "e) He I outer divertor", "font": "Open Sans", "fontSize": 28, "color": "#138a13", "align": "left", "baseline": "alphabetic"},
    "encoding": {"x": {"datum": 9.864, "type": "quantitative"}, "y": {"datum": 5.8, "type": "quantitative", "axis": null}}}
  ],
  "resolve": {"axis": {"y": "independent"}}
 },
 {"width": 742, "height": 97,
  "layer": [
   {"data": {"name": "te"}, "transform": [{"fold": ["d", "k", "c", "g", "m", "b", "r"], "as": ["s", "v"]}],
    "mark": {"type": "line", "strokeWidth": 3.2},
    "encoding": {"x": {"field": "t", "type": "quantitative", "scale": {"domain": [9.8, 13.18], "nice": false, "zero": false}, "axis": {"values": [10, 10.5, 11, 11.5, 12, 12.5, 13], "labels": false}},
     "y": {"field": "v", "type": "quantitative", "scale": {"domain": [-61, 430], "nice": false, "zero": false}, "axis": {"values": [0, 100, 200, 300, 400], "labelExpr": "datum.value % 200 == 0 ? format(datum.value, 'd') : ''", "labelOffset": {"condition": {"test": "datum.value == 0", "value": -4}, "value": 0}}},
     "color": {"field": "s", "type": "nominal", "scale": {"domain": ["d", "k", "c", "g", "m", "b", "r"], "range": ["#2a8585", "#000000", "#22eeee", "#22dd22", "#ff33ff", "#1010ee", "#ff0000"]}, "legend": null}}},
   {"data": {"name": "te"}, "mark": {"type": "point", "opacity": 0},
    "encoding": {"x": {"field": "t", "type": "quantitative"}, "y": {"field": "r", "type": "quantitative", "axis": {"orient": "right", "values": [0, 100, 200, 300, 400], "labels": false}}}},
   {"data": {"values": [{}]}, "mark": {"type": "rule", "color": "#ff00ff", "strokeDash": [14, 7], "strokeWidth": 2.5},
    "encoding": {"x": {"datum": 12.15, "type": "quantitative"}}},
   {"data": {"values": [{}]}, "mark": {"type": "text", "text": "f)", "font": "Open Sans", "fontSize": 28, "color": "#1a1ae6", "align": "left", "baseline": "alphabetic"},
    "encoding": {"x": {"datum": 9.873, "type": "quantitative"}, "y": {"datum": 219, "type": "quantitative", "axis": null}}},
   {"data": {"values": [{}]}, "mark": {"type": "text", "text": "T", "font": "DejaVu Serif", "fontStyle": "italic", "fontSize": 26, "color": "#1a1ae6", "align": "left", "baseline": "alphabetic"},
    "encoding": {"x": {"datum": 9.975, "type": "quantitative"}, "y": {"datum": 219, "type": "quantitative", "axis": null}}},
   {"data": {"values": [{}]}, "mark": {"type": "text", "text": "e,ped", "font": "DejaVu Serif", "fontStyle": "italic", "fontSize": 23, "color": "#1a1ae6", "align": "left", "baseline": "alphabetic"},
    "encoding": {"x": {"datum": 10.065, "type": "quantitative"}, "y": {"datum": 187, "type": "quantitative", "axis": null}}}
  ],
  "resolve": {"axis": {"y": "independent"}}
 },
 {"width": 742, "height": 95,
  "layer": [
   {"data": {"name": "che"}, "mark": {"type": "point", "shape": "M-1,-0.75L1,0.75M-1,0.75L1,-0.75", "filled": false, "size": 170, "strokeWidth": 2, "color": "#329a2a", "opacity": 1},
    "encoding": {"x": {"field": "t", "type": "quantitative", "scale": {"domain": [9.8, 13.18], "nice": false, "zero": false}, "axis": {"values": [10, 10.5, 11, 11.5, 12, 12.5, 13], "labels": false}},
     "y": {"field": "v", "type": "quantitative", "scale": {"domain": [0.47834, 0.49076], "nice": false, "zero": false}, "axis": {"values": [0.480, 0.482, 0.484, 0.486, 0.488, 0.490], "labelExpr": "round(datum.value * 1000) % 4 == 2 ? format(datum.value, '.3f') : ''", "labelOffset": {"condition": {"test": "datum.value > 0.4895", "value": 3}, "value": 0}}}}},
   {"data": {"name": "che"}, "mark": {"type": "point", "opacity": 0},
    "encoding": {"x": {"field": "t", "type": "quantitative"}, "y": {"field": "v", "type": "quantitative", "axis": {"orient": "right", "values": [0.480, 0.482, 0.484, 0.486, 0.488, 0.490], "labels": false}}}},
   {"data": {"values": [{}]}, "mark": {"type": "rule", "color": "#ff00ff", "strokeDash": [14, 7], "strokeWidth": 2.5},
    "encoding": {"x": {"datum": 12.15, "type": "quantitative"}}},
   {"data": {"values": [{}]}, "mark": {"type": "text", "text": "g) c", "font": "Open Sans", "fontSize": 28, "color": "#138a13", "align": "left", "baseline": "alphabetic"},
    "encoding": {"x": {"datum": 9.864, "type": "quantitative"}, "y": {"datum": 0.48187, "type": "quantitative", "axis": null}}},
   {"data": {"values": [{}]}, "mark": {"type": "text", "text": "He", "font": "Open Sans", "fontSize": 22, "color": "#138a13", "align": "left", "baseline": "alphabetic"},
    "encoding": {"x": {"datum": 10.06, "type": "quantitative"}, "y": {"datum": 0.48122, "type": "quantitative", "axis": null}}}
  ],
  "resolve": {"axis": {"y": "independent"}}
 },
 {"width": 742, "height": 65,
  "layer": [
   {"data": {"name": "meff"}, "mark": {"type": "point", "shape": "M-1,0L1,0M0,-1L0,1", "filled": false, "size": 110, "strokeWidth": 3, "color": "#1010e0", "opacity": 1},
    "encoding": {"x": {"field": "t", "type": "quantitative", "scale": {"domain": [9.8, 13.18], "nice": false, "zero": false}, "axis": {"values": [10, 10.5, 11, 11.5, 12, 12.5, 13], "labels": true, "labelExpr": "datum.value == 13 ? 'Time [s]' : format(datum.value, '.1f')", "labelOffset": {"condition": {"test": "datum.value == 13", "value": 14}, "value": 0}}},
     "y": {"field": "v", "type": "quantitative", "scale": {"domain": [3.7585, 4.0], "nice": false, "zero": false}, "axis": {"values": [3.80, 3.85, 3.90, 3.95, 4.00], "labelExpr": "round(datum.value * 100) % 10 == 0 ? format(datum.value, '.2f') : ''"}}}},
   {"data": {"name": "meff"}, "mark": {"type": "point", "opacity": 0},
    "encoding": {"x": {"field": "t", "type": "quantitative"}, "y": {"field": "v", "type": "quantitative", "axis": {"orient": "right", "values": [3.80, 3.85, 3.90, 3.95, 4.00], "labels": false}}}},
   {"data": {"values": [{}]}, "mark": {"type": "rule", "color": "#ff00ff", "strokeDash": [14, 7], "strokeWidth": 2.5},
    "encoding": {"x": {"datum": 12.15, "type": "quantitative"}}},
   {"data": {"values": [{}]}, "mark": {"type": "text", "text": "h)", "font": "Open Sans", "fontSize": 28, "color": "#1a1ae6", "align": "left", "baseline": "alphabetic"},
    "encoding": {"x": {"datum": 12.541, "type": "quantitative"}, "y": {"datum": 3.865, "type": "quantitative", "axis": null}}},
   {"data": {"values": [{}]}, "mark": {"type": "text", "text": "M", "font": "DejaVu Serif", "fontStyle": "italic", "fontSize": 25, "color": "#1a1ae6", "align": "left", "baseline": "alphabetic"},
    "encoding": {"x": {"datum": 12.723, "type": "quantitative"}, "y": {"datum": 3.865, "type": "quantitative", "axis": null}}},
   {"data": {"values": [{}]}, "mark": {"type": "text", "text": "eff", "font": "DejaVu Serif", "fontStyle": "italic", "fontSize": 22, "color": "#1a1ae6", "align": "left", "baseline": "alphabetic"},
    "encoding": {"x": {"datum": 12.856, "type": "quantitative"}, "y": {"datum": 3.834, "type": "quantitative", "axis": null}}}
  ],
  "resolve": {"axis": {"y": "independent"}}
 }
]
}
